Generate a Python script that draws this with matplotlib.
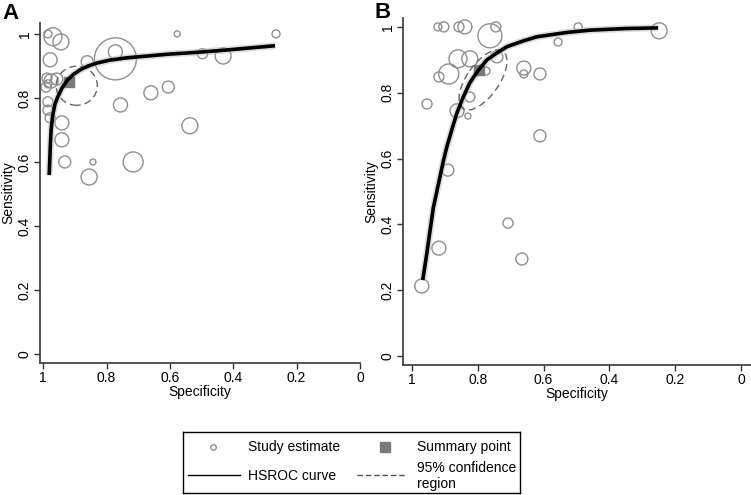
import numpy as np
import matplotlib
matplotlib.use('Agg')
import matplotlib.pyplot as plt
from matplotlib.patches import Ellipse

plt.rcParams['font.family'] = ['Liberation Sans', 'DejaVu Sans']

# panel A: study estimates (specificity, sensitivity, study weight)
spec_a = [0.985, 0.969, 0.944, 0.978, 0.861, 0.772, 0.772, 0.988, 0.975, 0.985,
          0.991, 0.957, 0.985, 0.985, 0.978, 0.941, 0.941, 0.932, 0.855, 0.843,
          0.716, 0.756, 0.660, 0.605, 0.577, 0.537, 0.497, 0.432, 0.265]
sens_a = [1.000, 0.991, 0.975, 0.919, 0.913, 0.922, 0.944, 0.862, 0.853, 0.844,
          0.834, 0.859, 0.788, 0.762, 0.738, 0.722, 0.669, 0.600, 0.553, 0.600,
          0.600, 0.778, 0.816, 0.834, 1.000, 0.713, 0.938, 0.931, 1.000]
wt_a = [4, 9, 8, 7, 6, 21, 7, 5, 7, 4, 5, 6, 5, 5, 5, 7, 7, 6, 8, 3,
        10, 7, 7, 6, 3, 8, 5, 8, 4]

# panel A: HSROC curve, summary point, confidence region
curve_spec_a = [0.981, 0.979, 0.977, 0.975, 0.970, 0.963, 0.954, 0.940, 0.923, 0.905,
                0.883, 0.860, 0.830, 0.790, 0.738, 0.670, 0.600, 0.520, 0.440, 0.360, 0.268]
curve_sens_a = [0.559, 0.610, 0.660, 0.700, 0.745, 0.780, 0.803, 0.832, 0.856, 0.873,
                0.888, 0.899, 0.909, 0.918, 0.925, 0.931, 0.937, 0.942, 0.948, 0.955, 0.963]
summary_a = (0.917, 0.850)
region_a = dict(center=(0.894, 0.838), width=0.130, height=0.122, angle=0)

# panel B
spec_b = [0.921, 0.903, 0.857, 0.839, 0.745, 0.763, 0.860, 0.824, 0.742, 0.888,
          0.918, 0.775, 0.824, 0.863, 0.830, 0.954, 0.891, 0.611, 0.660, 0.660,
          0.611, 0.556, 0.495, 0.249, 0.970, 0.918, 0.708, 0.666]
sens_b = [1.000, 1.000, 1.000, 1.000, 1.000, 0.973, 0.903, 0.903, 0.909, 0.857,
          0.848, 0.866, 0.787, 0.745, 0.729, 0.766, 0.565, 0.669, 0.875, 0.857,
          0.857, 0.954, 1.000, 0.988, 0.213, 0.328, 0.404, 0.295]
wt_b = [4, 5, 5, 7, 5, 12, 9, 8, 6, 10, 5, 4, 5, 7, 3, 5, 6, 6, 7, 4,
        6, 4, 4, 8, 7, 7, 5, 6]

curve_spec_b = [0.967, 0.955, 0.945, 0.935, 0.920, 0.905, 0.894, 0.878, 0.863, 0.845,
                0.824, 0.800, 0.772, 0.740, 0.711, 0.660, 0.620, 0.530, 0.460, 0.350, 0.252]
curve_sens_b = [0.231, 0.310, 0.380, 0.450, 0.520, 0.590, 0.635, 0.690, 0.739, 0.785,
                0.830, 0.866, 0.900, 0.922, 0.940, 0.958, 0.970, 0.983, 0.990, 0.995, 0.997]
summary_b = (0.796, 0.869)
region_b = dict(center=(0.784, 0.839), width=0.212, height=0.098, angle=125)

ticks = [1, 0.8, 0.6, 0.4, 0.2, 0]
tick_labels = ['1', '0.8', '0.6', '0.4', '0.2', '0']

circle_col = '#8f8f8f'
square_col = '#7a7a7a'
dash_col = '#666666'

fig = plt.figure(figsize=(7.51, 4.95), dpi=100)
ax_a = fig.add_axes([40 / 751, 132 / 495, 320 / 751, 340 / 495])
ax_b = fig.add_axes([403 / 751, 130 / 495, 348 / 751, 347 / 495])


def draw_panel(ax, spec, sens, wt, cspec, csens, summ, region, xlim, ylim):
    s = [(2 * r * 0.72) ** 2 for r in wt]
    ax.scatter(spec, sens, s=s, facecolors='none', edgecolors=circle_col, linewidths=1.0, zorder=2)
    ax.plot(cspec, csens, color='#bbbbbb', lw=5, alpha=0.5, solid_capstyle='butt', zorder=3)
    ax.plot(cspec, csens, color='black', lw=2.6, solid_capstyle='butt', zorder=4)
    ax.add_patch(Ellipse(region['center'], region['width'], region['height'],
                         angle=region['angle'], fill=False, ls=(0, (5, 3)),
                         edgecolor=dash_col, lw=1.0, zorder=3))
    ax.scatter([summ[0]], [summ[1]], marker='s', s=45, color=square_col, zorder=3)
    ax.set_xlim(*xlim)
    ax.set_ylim(*ylim)
    ax.set_xticks(ticks)
    ax.set_xticklabels(tick_labels)
    ax.set_yticks(ticks)
    ax.set_yticklabels(tick_labels)
    for side in ['top', 'right']:
        ax.spines[side].set_visible(False)
    for side in ['left', 'bottom']:
        ax.spines[side].set_color('#444444')
        ax.spines[side].set_linewidth(1.3)
    ax.tick_params(colors='#333333', labelcolor='black', length=4, width=1, labelsize=10, pad=2)
    ax.tick_params(axis='y', labelrotation=90)
    for lab in ax.get_yticklabels():
        lab.set_va('center')
    ax.set_xlabel('Specificity', fontsize=10, labelpad=0)
    ax.set_ylabel('Sensitivity', fontsize=10, labelpad=2)


draw_panel(ax_a, spec_a, sens_a, wt_a, curve_spec_a, curve_sens_a, summary_a, region_a,
           (1.01, 0.0), (-0.028, 1.034))
draw_panel(ax_b, spec_b, sens_b, wt_b, curve_spec_b, curve_sens_b, summary_b, region_b,
           (1.027, -0.030), (-0.027, 1.027))

fig.text(2 / 751, 1 - 3 / 495, 'A', fontsize=16, fontweight='bold', va='top', ha='left')
fig.text(375 / 751, 1 - 2 / 495, 'B', fontsize=16, fontweight='bold', va='top', ha='left')

# legend box (drawn by hand so both rows line up like the original)
lg = fig.add_axes([183 / 751, 2 / 495, 337 / 751, 61 / 495])
lg.set_xlim(0, 337)
lg.set_ylim(61, 0)
lg.set_xticks([])
lg.set_yticks([])
for sp in lg.spines.values():
    sp.set_color('black')
    sp.set_linewidth(1.0)
lg.plot([30], [15], marker='o', ls='none', mfc='none', mec=circle_col, ms=4, mew=1)
lg.text(65, 15, 'Study estimate', fontsize=10, va='center', ha='left')
lg.plot([202], [15], marker='s', ls='none', color=square_col, ms=7)
lg.text(234, 15, 'Summary point', fontsize=10, va='center', ha='left')
lg.plot([5, 57], [43, 43], color='black', lw=1)
lg.text(65, 44, 'HSROC curve', fontsize=10, va='center', ha='left')
lg.plot([174, 224], [43, 43], color='#555555', lw=1, ls=(0, (4, 2)))
lg.text(234, 44, '95% confidence\nregion', fontsize=10, va='center', ha='left', linespacing=1.15)

fig.savefig('out.png', dpi=100)
